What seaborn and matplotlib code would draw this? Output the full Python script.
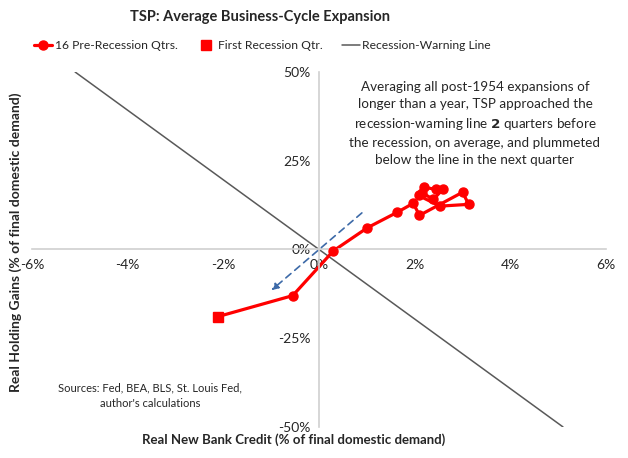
import seaborn as sns
import matplotlib.pyplot as plt
import pandas as pd
from matplotlib.lines import Line2D

# data (% of final domestic demand)
credit = [2.20, 2.45, 2.60, 2.39, 2.15, 2.08, 2.53, 3.13, 3.00, 2.10, 1.97, 1.64, 1.01, 0.30, -0.55]
gains = [17.5, 16.9, 17.1, 14.1, 16.0, 15.2, 12.2, 12.7, 16.1, 9.6, 13.0, 10.5, 6.1, -0.4, -13.0]
first_recession = (-2.11, -18.9)
warning_x = [-5.1, 5.1]
warning_slope = -9.8
arrow_start = (0.94, 10.8)
arrow_end = (-1.04, -12.0)
xticks = [-6, -4, -2, 0, 2, 4, 6]
yticks = [-50, -25, 0, 25, 50]

sns.set_style("white")
plt.rcParams['font.family'] = ['Lato', 'DejaVu Sans']
plt.rcParams['axes.unicode_minus'] = False

fig = plt.figure(figsize=(6.28, 4.58), dpi=100)
ax = fig.add_axes([0.051, 0.0677, 0.914, 0.7753])

# recession-warning line
wy = [warning_slope * v for v in warning_x]
sns.lineplot(x=warning_x, y=wy, ax=ax, color="#595959", linewidth=1.1, legend=False)

# dashed blue arrow
ax.annotate("", xy=arrow_end, xytext=arrow_start,
            arrowprops=dict(arrowstyle="-|>", color="#3D6AA8", lw=1.2,
                            linestyle=(0, (4, 3)), mutation_scale=10))

# path into the first recession quarter
df = pd.DataFrame({"credit": credit + [first_recession[0]],
                   "gains": gains + [first_recession[1]]})
sns.lineplot(data=df, x="credit", y="gains", sort=False, estimator=None, ax=ax,
             color="red", linewidth=2.3, legend=False)
ax.plot(credit, gains, "o", color="red", markersize=6.5, zorder=4)
ax.plot(*first_recession, "s", color="red", markersize=7, zorder=4)

ax.set_xlim(-6, 6)
ax.set_ylim(-50, 50)
ax.set_xlabel("")
ax.set_ylabel("")
ax.set_xticks(xticks)
ax.set_yticks(yticks)
ax.set_xticklabels([f"{t}%" for t in xticks], fontsize=9.5, color="#333333")
ax.set_yticklabels([f"{t}%" for t in yticks], fontsize=9.5, color="#333333")
for s in ["top", "right"]:
    ax.spines[s].set_visible(False)
ax.spines["left"].set_position(("data", 0))
ax.spines["bottom"].set_position(("data", 0))
for s in ["left", "bottom"]:
    ax.spines[s].set_color("#D0D0D0")
    ax.spines[s].set_linewidth(1.2)
ax.tick_params(axis="both", direction="out", length=4, color="#D0D0D0", width=1.2, pad=2)
ax.tick_params(axis="x", pad=3)

fig.text(0.414, 0.963, "TSP: Average Business-Cycle Expansion", ha="center", va="center",
         fontsize=10.5, fontweight="bold")
fig.text(0.467, 0.039, "Real New Bank Credit (% of final domestic demand)", ha="center",
         va="center", fontsize=9.5, fontweight="bold")
fig.text(0.025, 0.472, "Real Holding Gains (% of final domestic demand)", ha="center",
         va="center", rotation=90, fontsize=10, fontweight="bold")

ax.text(3.26, 35.5, "Averaging all post-1954 expansions of\nlonger than a year, TSP approached the\n"
        "recession-warning line $\\bf{2}$ quarters before\nthe recession, on average, and plummeted\n"
        "below the line in the next quarter", ha="center", va="center", fontsize=9.7,
        linespacing=1.5)
ax.text(-3.53, -41.1, "Sources: Fed, BEA, BLS, St. Louis Fed,\nauthor's calculations",
        ha="center", va="center", fontsize=8, linespacing=1.5)

handles = [Line2D([], [], color="red", lw=2.3, marker="o", markersize=6.5),
           Line2D([], [], color="red", lw=0, marker="s", markersize=7),
           Line2D([], [], color="#595959", lw=1.1)]
labels = ["16 Pre-Recession Qtrs.", "First Recession Qtr.", "Recession-Warning Line"]
fig.legend(handles, labels, loc="center", bbox_to_anchor=(0.418, 0.9), ncol=3, frameon=False,
           fontsize=8.7, handlelength=1.5, handletextpad=0.2, columnspacing=1.6)

fig.savefig("out.png", dpi=100)
